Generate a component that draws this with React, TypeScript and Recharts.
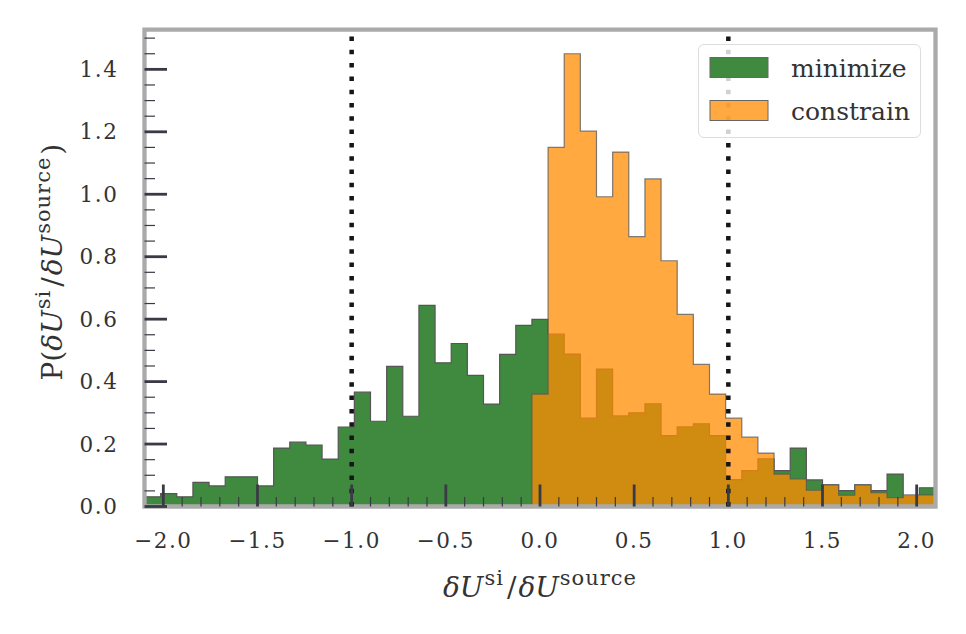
import React from "react";
import { ComposedChart, Area, XAxis, YAxis, ReferenceLine, ReferenceArea, Label } from "recharts";

// ---- data ----
const BIN_MIN = -2.1;
const BIN_MAX = 2.1;
const SERIES_NAMES = ["minimize", "constrain"];
const MINIMIZE = [
  0.031, 0.041, 0.031, 0.077, 0.066, 0.095, 0.095, 0.066, 0.187, 0.206,
  0.197, 0.152, 0.254, 0.366, 0.273, 0.449, 0.289, 0.644, 0.46, 0.522,
  0.42, 0.328, 0.487, 0.58, 0.599, 0.552, 0.488, 0.283, 0.44, 0.29,
  0.3, 0.329, 0.227, 0.255, 0.265, 0.227, 0.086, 0.115, 0.153, 0.115,
  0.187, 0.085, 0.069, 0.051, 0.069, 0.051, 0.104, 0.033, 0.06,
];
const CONSTRAIN = [
  0, 0, 0, 0, 0, 0, 0, 0, 0, 0,
  0, 0, 0, 0, 0, 0, 0, 0, 0, 0,
  0, 0, 0, 0, 0.36, 1.15, 1.45, 1.202, 0.992, 1.135,
  0.864, 1.049, 0.787, 0.615, 0.455, 0.36, 0.283, 0.222, 0.171, 0.104,
  0.088, 0.052, 0.069, 0.036, 0.069, 0.044, 0.028, 0.037, 0.037,
];
const X_MAJOR = [-2.0, -1.5, -1.0, -0.5, 0.0, 0.5, 1.0, 1.5, 2.0];
const Y_MAJOR = [0.0, 0.2, 0.4, 0.6, 0.8, 1.0, 1.2, 1.4];
const Y_MAX = 1.527;
const MARKERS = [-1, 1];

const X_TICKS: number[] = [];
for (let k = -20; k <= 20; k++) X_TICKS.push(k / 10);
const Y_TICKS: number[] = [];
for (let k = 0; k <= 30; k++) Y_TICKS.push(k / 20);

const nBins = MINIMIZE.length;
const width = (BIN_MAX - BIN_MIN) / nBins;
const rows = MINIMIZE.map((g, i) => ({ x: BIN_MIN + i * width, minimize: g, constrain: CONSTRAIN[i] }));
rows.push({ x: BIN_MAX, minimize: MINIMIZE[nBins - 1], constrain: CONSTRAIN[nBins - 1] });

const GREEN = "#408a40";
const ORANGE = "#ff8c00";
const TICK_COLOR = "#3a3a46";
const TEXT_COLOR = "#333";
const FONT = "'DejaVu Serif', serif";

const isMajor = (v: number, list: number[]) => list.some((m) => Math.abs(m - v) < 1e-6);
const fmt = (v: number) => (v < 0 ? "\u2212" : "") + Math.abs(v).toFixed(1);

const XTick = (props: any) => {
  const { x, y, payload } = props;
  const major = isMajor(payload.value, X_MAJOR);
  return (
    <g>
      <line x1={x} x2={x} y1={y} y2={y - (major ? 22 : 9.5)} stroke={TICK_COLOR} strokeWidth={major ? 2.8 : 1.2} />
      {major && (
        <text x={x} y={y + 41} textAnchor="middle" fontFamily={FONT} fontSize={21.5} letterSpacing={1.6} fill={TEXT_COLOR}>
          {fmt(payload.value)}
        </text>
      )}
    </g>
  );
};

const YTick = (props: any) => {
  const { x, y, payload } = props;
  const major = isMajor(payload.value, Y_MAJOR);
  return (
    <g>
      <line x1={x} x2={x + (major ? 22.5 : 10.5)} y1={y} y2={y} stroke={TICK_COLOR} strokeWidth={major ? 2.8 : 1.2} />
      {major && (
        <text x={x - 26} y={y + 7.5} textAnchor="end" fontFamily={FONT} fontSize={21.5} letterSpacing={1.6} fill={TEXT_COLOR}>
          {fmt(payload.value)}
        </text>
      )}
    </g>
  );
};

const MathBody = ({ sup }: { sup: number }) => (
  <>
    <tspan fontStyle="italic">δU</tspan>
    <tspan fontSize={sup} dy={-12} dx={1} letterSpacing={1}>si</tspan>
    <tspan dy={12} dx={3}>/</tspan>
    <tspan fontStyle="italic" dx={2}>δU</tspan>
    <tspan fontSize={sup} dy={-12} dx={1} letterSpacing={1}>source</tspan>
  </>
);

const XLabel = (props: any) => {
  const vb = props.viewBox;
  const cx = vb.x + vb.width / 2;
  const y = vb.y + 90;
  return (
    <text x={cx} y={y} textAnchor="middle" fontFamily={FONT} fontSize={28} fill={TEXT_COLOR}>
      <MathBody sup={21} />
    </text>
  );
};

const YLabel = (props: any) => {
  const vb = props.viewBox;
  const cx = vb.x - 22;
  const cy = vb.y + vb.height / 2 - 6;
  return (
    <text x={cx} y={cy} textAnchor="middle" fontFamily={FONT} fontSize={28} fill={TEXT_COLOR} transform={`rotate(-90, ${cx}, ${cy})`}>
      <tspan>P(</tspan>
      <MathBody sup={21} />
      <tspan dy={12} dx={2}>)</tspan>
    </text>
  );
};

const Legend = () => (
  <div
    style={{
      position: "absolute",
      left: 690,
      top: 36,
      width: 223,
      height: 94,
      border: "1px solid #dddddd",
      borderRadius: 6,
      background: "rgba(255,255,255,0.8)",
      boxSizing: "border-box",
    }}
  >
    <svg width={223} height={94} style={{ position: "absolute", left: -1, top: -1 }}>
      {SERIES_NAMES.map((name, i) => (
        <g key={name}>
          <rect
            x={12}
            y={13.5 + i * 43}
            width={58}
            height={20}
            fill={i === 0 ? GREEN : ORANGE}
            fillOpacity={i === 0 ? 1 : 0.75}
            stroke="#666"
            strokeWidth={1}
          />
          <text x={93} y={33 + i * 43} fontFamily={FONT} fontSize={25} fill={TEXT_COLOR}>
            {name}
          </text>
        </g>
      ))}
    </svg>
  </div>
);

export default function App() {
  return (
    <div style={{ position: "relative", width: 950, height: 618 }}>
      <ComposedChart width={950} height={618} data={rows} margin={{ top: 21.7, right: 22.5, left: 76.5, bottom: 79.5 }}>
        <XAxis
          dataKey="x"
          type="number"
          domain={[BIN_MIN, BIN_MAX]}
          allowDataOverflow
          ticks={X_TICKS}
          interval={0}
          tick={<XTick />}
          tickLine={false}
          axisLine={false}
          tickSize={0}
          tickMargin={0}
          height={40}
        >
          <Label content={<XLabel />} />
        </XAxis>
        <YAxis
          type="number"
          domain={[0, Y_MAX]}
          allowDataOverflow
          ticks={Y_TICKS}
          interval={0}
          tick={<YTick />}
          tickLine={false}
          axisLine={false}
          tickSize={0}
          tickMargin={0}
          width={60}
        >
          <Label content={<YLabel />} />
        </YAxis>
        <Area
          type="stepAfter"
          dataKey="minimize"
          fill={GREEN}
          fillOpacity={1}
          stroke="#555"
          strokeWidth={1.2}
          dot={false}
          activeDot={false}
          isAnimationActive={false}
        />
        <Area
          type="stepAfter"
          dataKey="constrain"
          fill={ORANGE}
          fillOpacity={0.75}
          stroke="#555"
          strokeOpacity={0.75}
          strokeWidth={1.2}
          dot={false}
          activeDot={false}
          isAnimationActive={false}
        />
        {MARKERS.map((m) => (
          <ReferenceLine key={m} x={m} stroke="#151515" strokeWidth={4.5} strokeDasharray="4.5 8.8" />
        ))}
        <ReferenceArea x1={BIN_MIN} x2={BIN_MAX} y1={0} y2={Y_MAX} fill="none" stroke="#aaaaaa" strokeWidth={4.3} />
      </ComposedChart>
      <Legend />
    </div>
  );
}
